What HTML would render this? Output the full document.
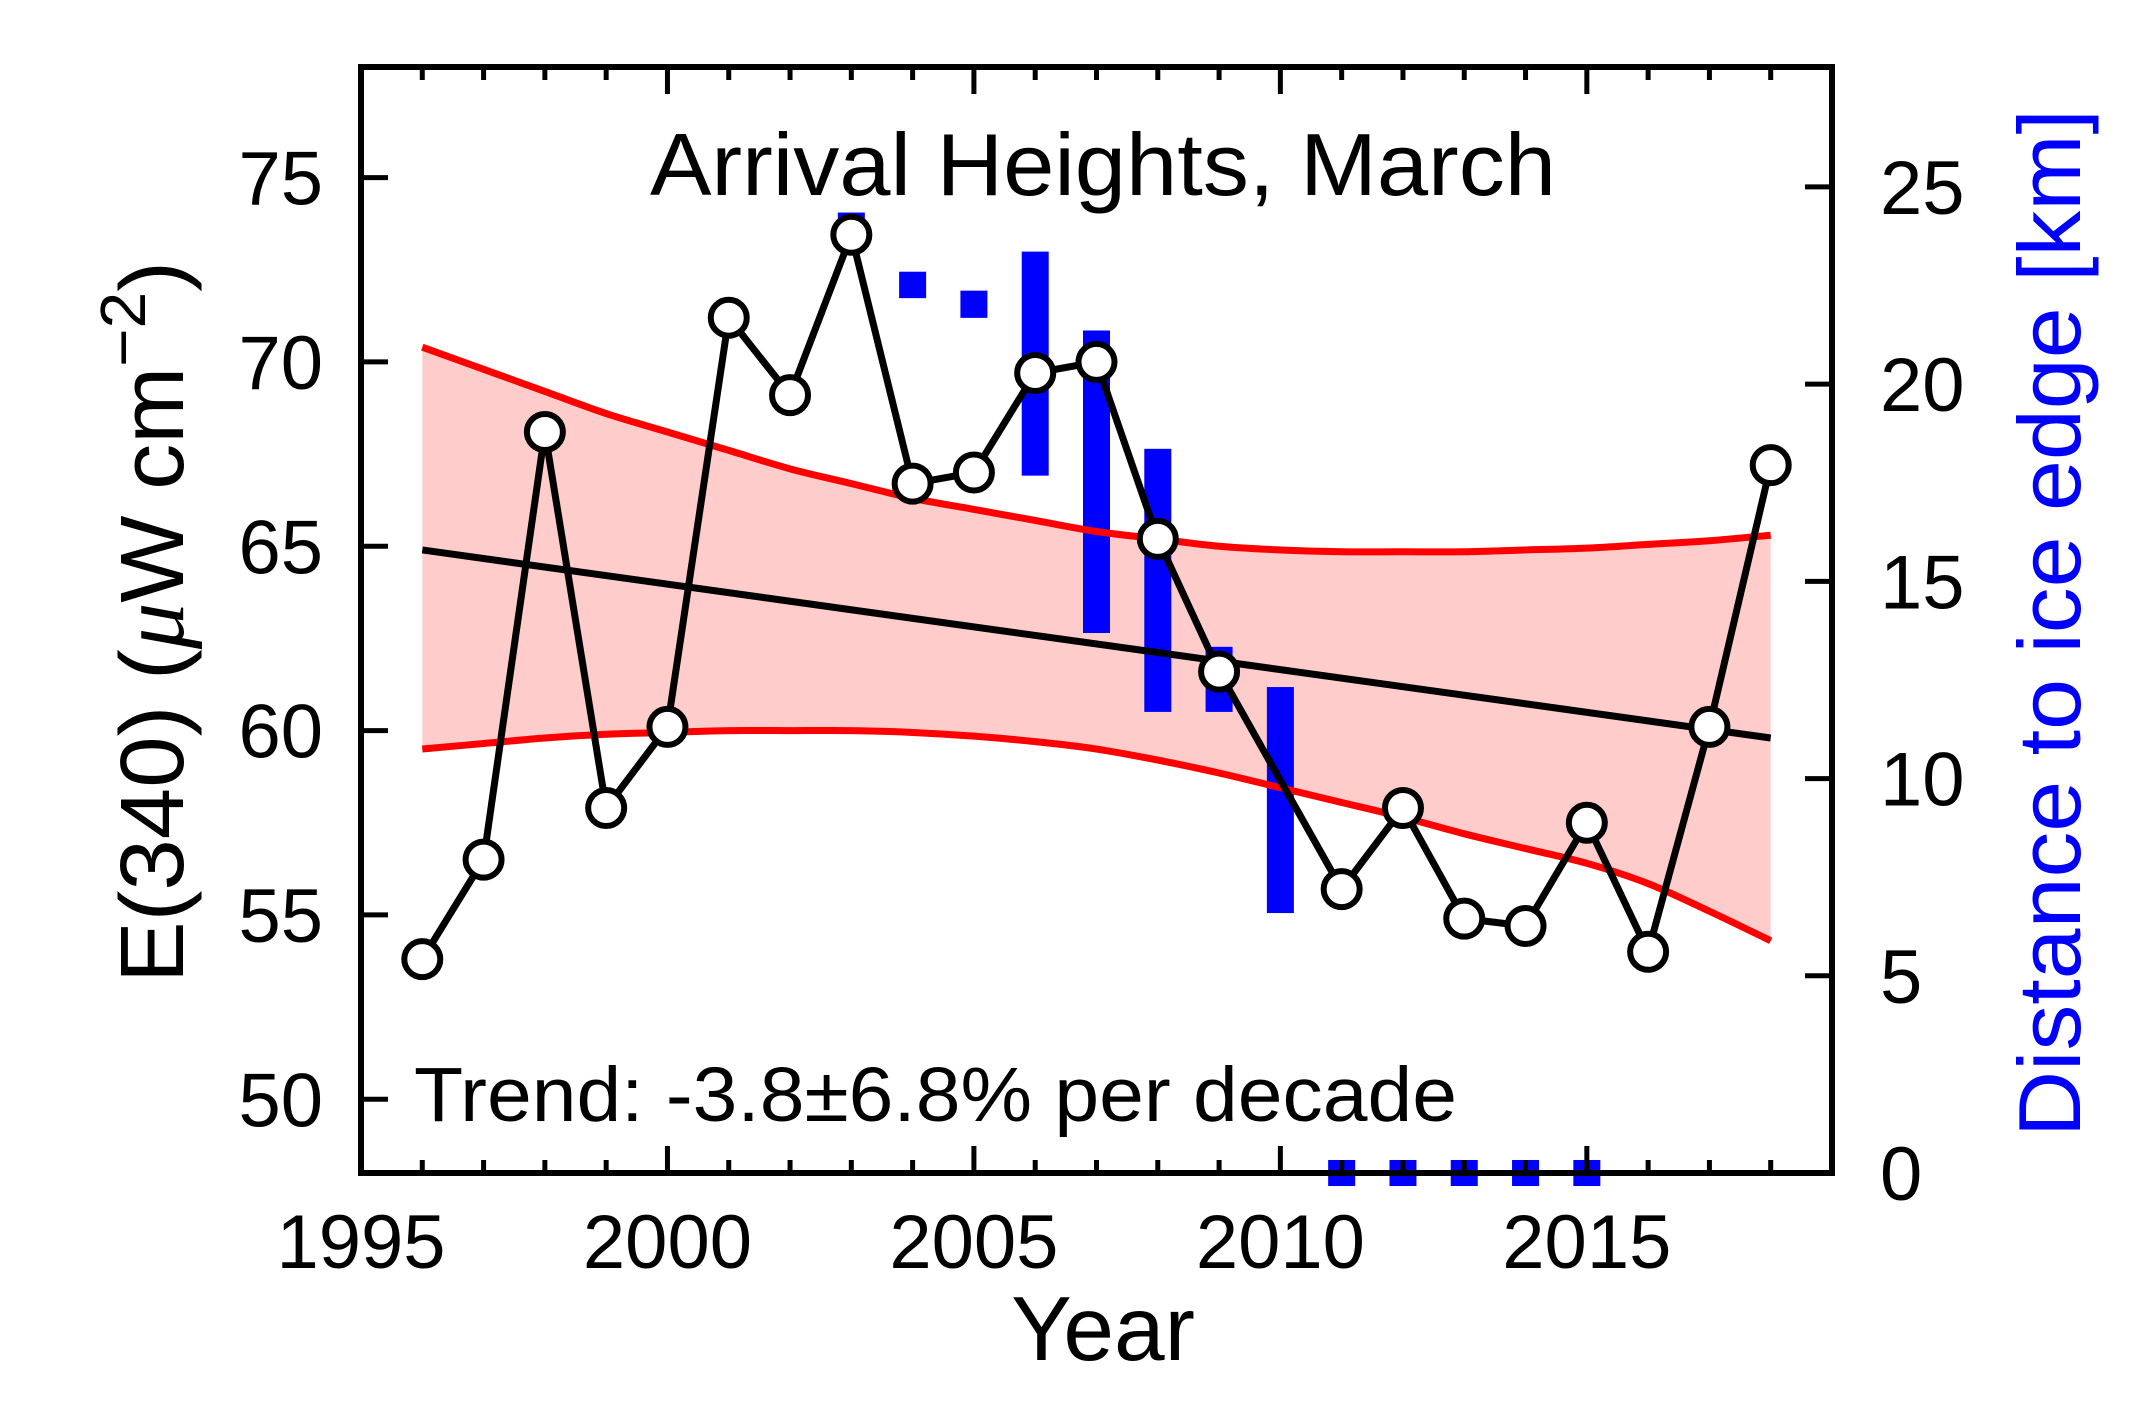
<!DOCTYPE html>
<html><head><meta charset="utf-8"><style>
html,body{margin:0;padding:0;background:#fff;}
svg{display:block;font-family:"Liberation Sans",Arial,sans-serif;}
</style></head><body>
<svg id="chart" width="2130" height="1410" viewBox="0 0 2130 1410" xmlns="http://www.w3.org/2000/svg">
<g id="band-layer"></g>
<g id="bar-layer"></g>
<g id="line-layer"></g>
<g id="axis-layer"></g>
<text x="1103" y="195" font-size="88" text-anchor="middle" textLength="906" lengthAdjust="spacingAndGlyphs">Arrival Heights, March</text>
<text x="414" y="1121" font-size="77" textLength="1043" lengthAdjust="spacingAndGlyphs">Trend: -3.8±6.8% per decade</text>
<text x="1103" y="1360" font-size="91" text-anchor="middle">Year</text>
<text transform="translate(183,622) rotate(-90)" font-size="90" text-anchor="middle" textLength="722" lengthAdjust="spacingAndGlyphs">E(340) (<tspan font-family="Liberation Serif" font-style="italic">μ</tspan>W cm<tspan dy="-38" font-size="64">−2</tspan><tspan dy="38">)</tspan></text>
<text transform="translate(2080,623) rotate(-90)" font-size="88" fill="#0000ff" text-anchor="middle" textLength="1028" lengthAdjust="spacingAndGlyphs">Distance to ice edge [km]</text>
</svg>
<script>
const years = [1996,1997,1998,1999,2000,2001,2002,2003,2004,2005,2006,2007,2008,2009,2010,2011,2012,2013,2014,2015,2016,2017,2018];
const e340 = [53.8,56.5,68.1,57.9,60.1,71.2,69.1,73.45,66.7,67.0,69.7,70.0,65.2,61.6,null,55.7,57.9,54.9,54.7,57.5,54.0,60.1,67.2];
const trendStart = 64.9;
const trendEnd = 59.8;
const bandUpper = [70.4,69.8,69.2,68.6,68.1,67.6,67.1,66.7,66.3,66.0,65.7,65.4,65.2,65.0,64.9,64.85,64.85,64.85,64.9,64.95,65.05,65.15,65.3];
const bandLower = [59.5,59.65,59.8,59.9,59.95,60.0,60.0,60.0,59.95,59.85,59.7,59.5,59.2,58.85,58.45,58.05,57.65,57.2,56.8,56.4,55.85,55.1,54.3];
const iceYears = [2003,2004,2005,2006,2007,2008,2009,2010,2011,2012,2013,2014,2015];
const iceLow = [23.7,22.18,21.68,17.68,13.69,11.69,11.69,6.59,-0.33,-0.33,-0.33,-0.33,-0.33];
const iceHigh = [24.35,22.85,22.37,23.36,21.36,18.36,13.34,12.32,0.33,0.33,0.33,0.33,0.33];
const xTicks = [1995,2000,2005,2010,2015];
const yTicks = [50,55,60,65,70,75];
const y2Ticks = [0,5,10,15,20,25];

const L=361,R=1832,T=67,B=1173;
const X0=1995,X1=2019,Y0=48,Y1=78,K0=0,K1=28.04;
const sx=v=>L+(v-X0)/(X1-X0)*(R-L);
const sy=v=>B-(v-Y0)/(Y1-Y0)*(B-T);
const sk=v=>B-(v-K0)/(K1-K0)*(B-T);
const NS="http://www.w3.org/2000/svg";
function mk(tag,parent,attrs){const el=document.createElementNS(NS,tag);for(const k in attrs)el.setAttribute(k,attrs[k]);parent.appendChild(el);return el;}
const band=document.getElementById('band-layer');
const bars=document.getElementById('bar-layer');
const lines=document.getElementById('line-layer');
const axes=document.getElementById('axis-layer');

function smooth(pts){let d=`M${pts[0][0]},${pts[0][1]}`;for(let i=0;i<pts.length-1;i++){const p0=pts[Math.max(0,i-1)],p1=pts[i],p2=pts[i+1],p3=pts[Math.min(pts.length-1,i+2)];d+=` C${p1[0]+(p2[0]-p0[0])/6},${p1[1]+(p2[1]-p0[1])/6} ${p2[0]-(p3[0]-p1[0])/6},${p2[1]-(p3[1]-p1[1])/6} ${p2[0]},${p2[1]}`;}return d;}
const up=years.map((y,i)=>[sx(y),sy(bandUpper[i])]);
const lo=years.map((y,i)=>[sx(y),sy(bandLower[i])]);
const loRev=lo.slice().reverse();
const sr=smooth(loRev);
let fillD=smooth(up)+` L${loRev[0][0]},${loRev[0][1]}`+sr.slice(sr.indexOf(' C'))+' Z';
const bf=mk('path',band,{d:fillD,fill:'#ffcccc',stroke:'none'});



for(let i=0;i<iceYears.length;i++){
  const r=mk('rect',bars,{x:sx(iceYears[i])-13.5,y:sk(iceHigh[i]),width:27,height:sk(iceLow[i])-sk(iceHigh[i]),fill:'#0000ff'});
  
  
}

const ub=mk('path',lines,{d:smooth(up),fill:'none',stroke:'#ff0000','stroke-width':7});


const lb=mk('path',lines,{d:smooth(lo),fill:'none',stroke:'#ff0000','stroke-width':7});


const tl=mk('line',lines,{x1:sx(years[0]),y1:sy(trendStart),x2:sx(years[years.length-1]),y2:sy(trendEnd),stroke:'#000','stroke-width':7});



const pts=[];years.forEach((y,i)=>{if(e340[i]!==null)pts.push([sx(y),sy(e340[i]),y]);});
const dl=mk('polyline',lines,{points:pts.map(p=>p[0]+','+p[1]).join(' '),fill:'none',stroke:'#000','stroke-width':7,'stroke-linejoin':'round'});


pts.forEach(p=>{const c=mk('circle',lines,{cx:p[0],cy:p[1],r:18,fill:'#fff',stroke:'#000','stroke-width':6});
  
  });

const fr=mk('rect',axes,{x:L,y:T,width:R-L,height:B-T,fill:'none',stroke:'#000','stroke-width':6});


for(let y=1996;y<=2018;y++){
  const major=(y%5===0);const len=major?27:13;
  mk('line',axes,{x1:sx(y),y1:B,x2:sx(y),y2:B-len,stroke:'#000','stroke-width':5});
  mk('line',axes,{x1:sx(y),y1:T,x2:sx(y),y2:T+len,stroke:'#000','stroke-width':5});
}
xTicks.forEach(v=>{const t=mk('text',axes,{x:sx(v),y:1268,'font-size':76,'text-anchor':'middle'});t.textContent=v;
  
  });
yTicks.forEach(v=>{mk('line',axes,{x1:L,y1:sy(v),x2:L+27,y2:sy(v),stroke:'#000','stroke-width':5});
  const t=mk('text',axes,{x:323,y:sy(v)+27,'font-size':76,'text-anchor':'end'});t.textContent=v;
  
  });
y2Ticks.forEach(v=>{mk('line',axes,{x1:R,y1:sk(v),x2:R-27,y2:sk(v),stroke:'#000','stroke-width':5});
  const t=mk('text',axes,{x:1880,y:sk(v)+27,'font-size':76,'text-anchor':'start'});t.textContent=v;
  
  });
</script>
</body></html>
